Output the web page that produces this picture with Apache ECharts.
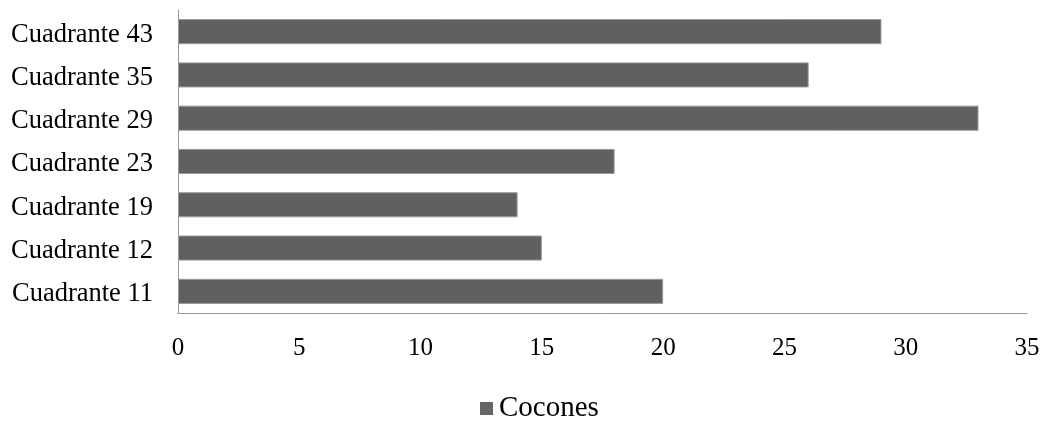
<!DOCTYPE html>
<html>
<head>
<meta charset="utf-8">
<script src="https://cdn.jsdelivr.net/npm/echarts@6/dist/echarts.min.js"></script>
<style>
  html, body { margin: 0; padding: 0; background: #ffffff; }
  #chart { width: 1044px; height: 423px; }
</style>
</head>
<body>
<div id="chart"></div>
<script>
// Quadrants, listed bottom to top
const categories = ['Cuadrante 11', 'Cuadrante 12', 'Cuadrante 19', 'Cuadrante 23', 'Cuadrante 29', 'Cuadrante 35', 'Cuadrante 43'];
const cocones = [20, 15, 14, 18, 33, 26, 29];
const seriesName = 'Cocones';

const FONT = '"Liberation Serif", "Times New Roman", serif';

const chart = echarts.init(document.getElementById('chart'), null, { renderer: 'canvas' });
chart.setOption({
  backgroundColor: '#ffffff',
  animation: false,
  textStyle: { fontFamily: FONT },
  grid: { left: 178, right: 17, top: 10, bottom: 110, containLabel: false },
  xAxis: {
    type: 'value',
    min: 0,
    max: 35,
    interval: 5,
    axisLine: { show: true, lineStyle: { color: '#999999', width: 1 } },
    axisTick: { show: false },
    splitLine: { show: false },
    axisLabel: { color: '#000000', fontSize: 25, fontFamily: FONT, margin: 23 }
  },
  yAxis: {
    type: 'category',
    data: categories,
    axisLine: { show: true, lineStyle: { color: '#999999', width: 1 } },
    axisTick: { show: false },
    axisLabel: {
      margin: 25,
      formatter: '{q|{value}}',
      rich: { q: { color: '#000000', fontSize: 26.5, fontFamily: FONT, padding: [6, 0, 0, 0] } }
    }
  },
  legend: {
    top: 394,
    left: 480,
    padding: 0,
    itemWidth: 13,
    itemHeight: 13,
    itemGap: 10,
    icon: 'rect',
    itemStyle: { color: '#666666', borderWidth: 0 },
    textStyle: { color: '#000000', fontSize: 29, fontFamily: FONT, padding: [10, 0, 0, 1] },
    data: [seriesName]
  },
  series: [{
    name: seriesName,
    type: 'bar',
    data: cocones,
    barWidth: '58%',
    itemStyle: { color: '#606060', borderColor: '#9a9a9a', borderWidth: 1 }
  }]
});
</script>
</body>
</html>
